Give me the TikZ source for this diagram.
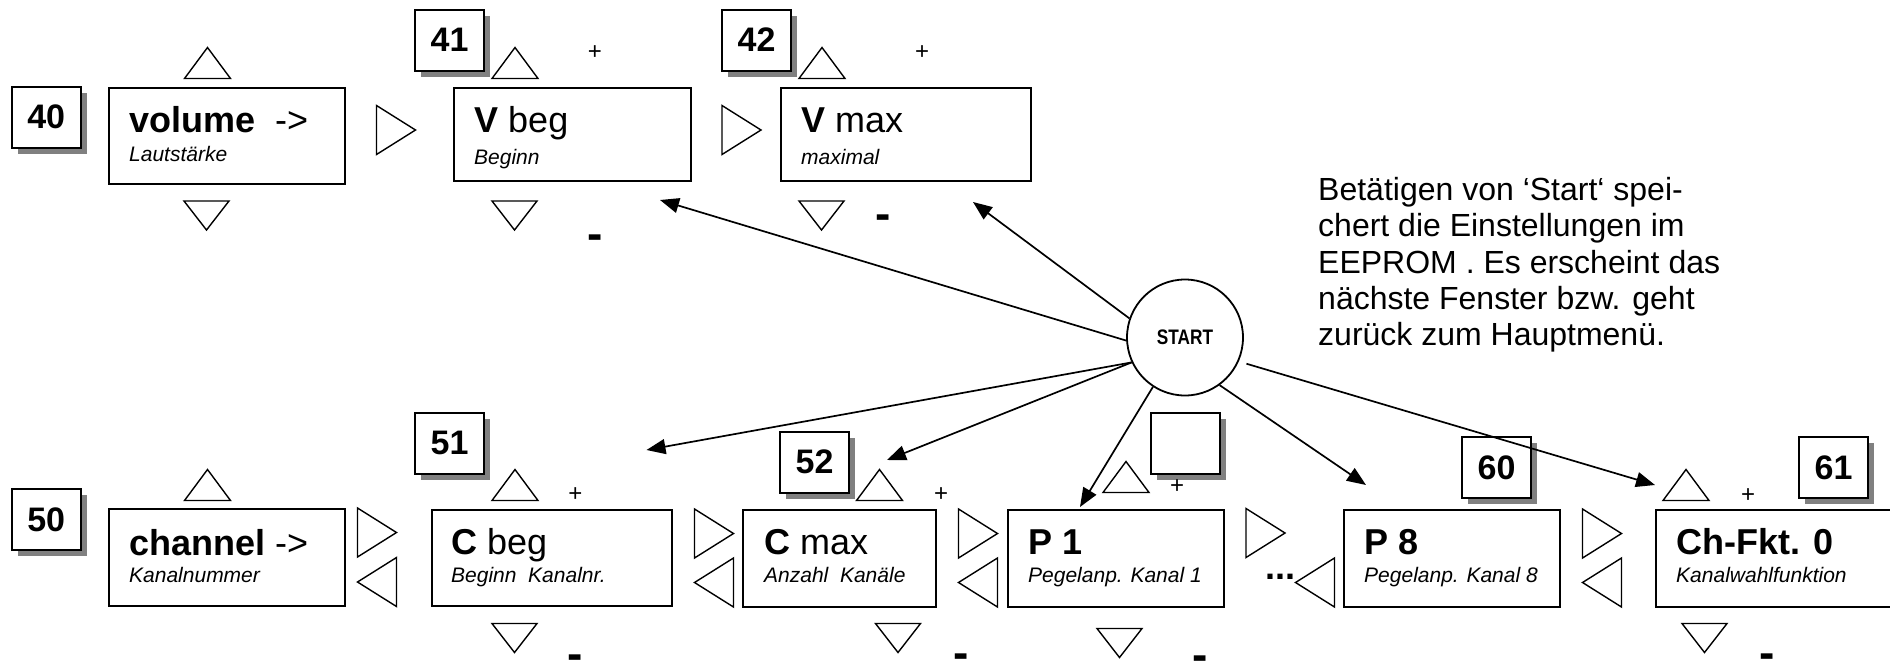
\documentclass[tikz,border=0pt]{standalone}
\usepackage{fontspec}
\setmainfont{Liberation Sans}
\newfontfamily\narrowsans[FakeStretch=0.82]{Liberation Sans}
\usetikzlibrary{arrows.meta,shadows}
\newcommand{\lowdash}{\raisebox{-9.5pt}[6.5pt][0pt]{-}}
\tikzset{
  mbox/.style={draw=black, line width=2pt, fill=white, inner sep=0pt, anchor=north west},
  numbox/.style={draw=black, line width=2pt, fill=white, inner sep=0pt,
    minimum width=69pt, minimum height=61pt,
    font=\fontsize{34}{40}\selectfont\bfseries,
    drop shadow={shadow xshift=6pt, shadow yshift=-6pt, fill=gray, opacity=1}},
  tri/.style={draw=black, line width=1.4pt, fill=white, line join=miter},
  uptri/.pic={\draw[tri] (-23,15.5) -- (23,15.5) -- (0,-15.5) -- cycle;},
  dntri/.pic={\draw[tri] (-22.5,-14.5) -- (22.5,-14.5) -- (0,14.5) -- cycle;},
  rttri/.pic={\draw[tri] (-19.5,-24.5) -- (19.5,0) -- (-19.5,24.5) -- cycle;},
  lttri/.pic={\draw[tri] (19.5,-24.5) -- (-19.5,0) -- (19.5,24.5) -- cycle;},
  mainlbl/.style={anchor=base west, inner sep=0pt, font=\fontsize{36}{43}\selectfont},
  sublbl/.style={anchor=base west, inner sep=0pt, font=\fontsize{21}{25}\selectfont\itshape},
  plussign/.style={inner sep=0pt, font=\fontsize{24}{28}\selectfont},
  minussign/.style={inner sep=0pt, font=\fontsize{46}{50}\selectfont\bfseries},
  conn/.style={line width=1.7pt, -{Triangle[length=19pt,width=15pt]}},
}
\begin{document}
\begin{tikzpicture}[x=1pt,y=-1pt]
\useasboundingbox (0,0) rectangle (1890,665);
\clip (0,0) rectangle (1890,665);
\fill[white] (0,0) rectangle (1890,665);

% ---------- top row ----------
\node[numbox] (n40) at (46.2,117) {40};
\node[numbox] (n41) at (449.5,40) {41};
\node[numbox] (n42) at (756.5,40) {42};

\node[mbox, minimum width=236.3pt, minimum height=96pt] (vol) at (107.7,86.7) {};
\node[mbox, minimum width=237pt, minimum height=93.3pt] (vbeg) at (453,86.7) {};
\node[mbox, minimum width=250pt, minimum height=93.3pt] (vmax) at (780,86.7) {};

\node[mainlbl] (volT) at (129,132) {\bfseries volume\ \ \mdseries->};
\node[sublbl] (volS) at (129,161.7) {Lautstärke};
\node[mainlbl] (vbegT) at (474,132) {\textbf{V} beg};
\node[sublbl] (vbegS) at (474,164) {Beginn};
\node[mainlbl] (vmaxT) at (801,132) {\textbf{V} max};
\node[sublbl] (vmaxS) at (801,164) {maximal};

\pic at (207.5,63) {uptri};
\pic at (206.5,215.5) {dntri};
\pic at (396,130) {rttri};
\pic at (515,63) {uptri};
\pic at (514.5,215.5) {dntri};
\pic at (741.5,130) {rttri};
\pic at (822,63) {uptri};
\pic at (821.5,215.5) {dntri};

\node[plussign] (p41) at (595,53) {+};
\node[plussign] (p42) at (922,53) {+};
\node[minussign] (m41) at (595,237) {\lowdash};
\node[minussign] (m42) at (883,217) {\lowdash};

% ---------- START and note ----------
\node[circle, draw=black, line width=1.8pt, fill=white, minimum size=116pt, inner sep=0pt,
  font=\narrowsans\bfseries\fontsize{21}{25}\selectfont] (start) at (1185,337.5) {START};

\node[anchor=base west, inner sep=0pt, align=left, font=\fontsize{32}{36.3}\selectfont]
  (note) at (1318,345.7) {Betätigen von ‘Start‘ spei-\\chert die Einstellungen im\\EEPROM . Es erscheint das\\nächste Fenster bzw. geht\\zurück zum Hauptmenü.};

% ---------- bottom row ----------
\node[numbox] (n50) at (46.2,519.5) {50};
\node[numbox] (n51) at (449.5,443) {51};
\node[numbox] (n52) at (814.5,462) {52};
\node[numbox] (nE) at (1185,443.5) {};
\node[numbox] (n60) at (1496.5,467.5) {60};
\node[numbox] (n61) at (1833.5,467.5) {61};

\node[mbox, minimum width=236pt, minimum height=97pt] (chan) at (108,508) {};
\node[mbox, minimum width=240.4pt, minimum height=96pt] (cbeg) at (430.6,509) {};
\node[mbox, minimum width=193pt, minimum height=97pt] (cmax) at (742,509) {};
\node[mbox, minimum width=216pt, minimum height=97pt] (pone) at (1007,509) {};
\node[mbox, minimum width=216pt, minimum height=97pt] (peight) at (1343,509) {};
\node[mbox, minimum width=260pt, minimum height=97pt] (chf) at (1655,509) {};

\node[mainlbl] (chanT) at (129,555) {\textbf{channel} ->};
\node[sublbl] (chanS) at (129,582) {Kanalnummer};
\node[mainlbl] (cbegT) at (451,554) {\textbf{C} beg};
\node[sublbl] (cbegS) at (451,582) {Beginn\ \ Kanalnr.};
\node[mainlbl] (cmaxT) at (764,554) {\textbf{C} max};
\node[sublbl] (cmaxS) at (764,582) {Anzahl\ \ Kanäle};
\node[mainlbl] (poneT) at (1028,554) {\bfseries P 1};
\node[sublbl] (poneS) at (1028,582) {Pegelanp. Kanal 1};
\node[mainlbl] (peightT) at (1364,554) {\bfseries P 8};
\node[sublbl] (peightS) at (1364,582) {Pegelanp. Kanal 8};
\node[mainlbl] (chfT) at (1676,554) {\bfseries Ch-Fkt. 0};
\node[sublbl] (chfS) at (1676,582) {Kanalwahlfunktion};

\pic at (207.5,485) {uptri};
\pic at (377,532.5) {rttri};
\pic at (377,582) {lttri};
\pic at (515,485) {uptri};
\pic at (514.5,638) {dntri};
\pic at (714,533.5) {rttri};
\pic at (714,582.5) {lttri};
\pic at (879.5,485) {uptri};
\pic at (898,638) {dntri};
\pic at (978,533.5) {rttri};
\pic at (978,582.5) {lttri};
\pic at (1126,477) {uptri};
\pic at (1119.5,643) {dntri};
\pic at (1265.5,533) {rttri};
\pic at (1315,582.5) {lttri};
\pic at (1602,533.5) {rttri};
\pic at (1602,582.5) {lttri};
\pic at (1686,485) {uptri};
\pic at (1704.5,638) {dntri};

\node[anchor=base west, inner sep=0pt, font=\fontsize{36}{43}\selectfont\bfseries] (dots) at (1265.5,579.5) {...};

\node[plussign] (p51) at (575.5,495) {+};
\node[plussign] (p52) at (941,495) {+};
\node[plussign] (pE) at (1177,487) {+};
\node[plussign] (p61) at (1748,495.7) {+};
\node[minussign] (m51) at (575.5,657) {\lowdash};
\node[minussign] (m52) at (961,656) {\lowdash};
\node[minussign] (mE) at (1200,658) {\lowdash};
\node[minussign] (m61) at (1767,656) {\lowdash};

% ---------- connectors ----------
\coordinate (a1) at (660,200);
\coordinate (a2) at (973,202);
\coordinate (a3) at (646.5,450);
\coordinate (a4) at (887,460);
\coordinate (a5) at (1080,507);
\coordinate (a6) at (1366,485);
\coordinate (a7) at (1655,485);
\draw[conn] (start.183) -- (a1);
\draw[conn] (start.161) -- (a2);
\draw[conn] (start.205) -- (a3);
\draw[conn] (start.205) -- (a4);
\draw[conn] (start.237) -- (a5);
\draw[conn] (start.306) -- (a6);
\draw[conn, shorten <=8pt] (start.336) -- (a7);
\end{tikzpicture}
\end{document}
